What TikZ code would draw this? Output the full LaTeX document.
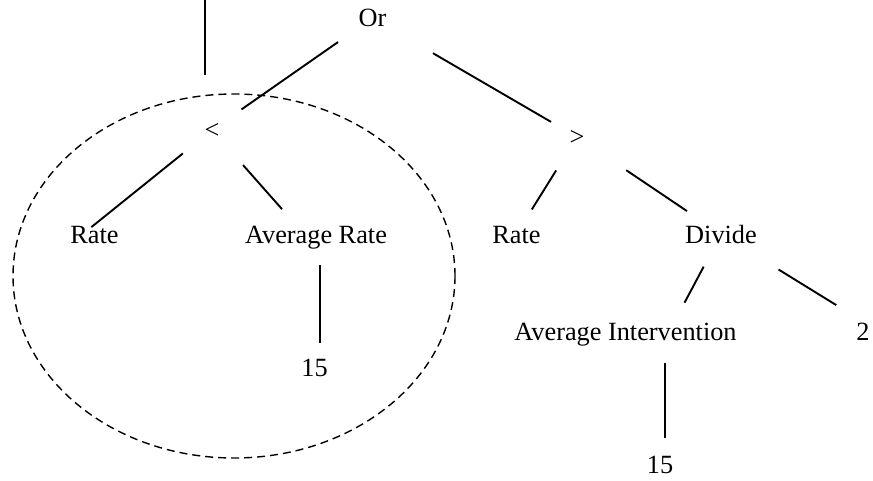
\documentclass[tikz,border=0pt]{standalone}
\usepackage{fontspec}
\setmainfont{Liberation Serif}
\usetikzlibrary{calc}

\begin{document}
\begin{tikzpicture}[
    x=0.5pt, y=-0.5pt,
    lbl/.style={anchor=base, inner sep=0pt, text height=9pt, text depth=0pt,
                font=\fontsize{13.15}{15}\selectfont},
    edge/.style={line width=0.95pt},
    grp/.style={line width=0.7pt, dash pattern=on 4pt off 2.5pt}
  ]
  \useasboundingbox (0,0) rectangle (873,481);
  % tree labels
  \node[lbl] (or)       at (372.5,27) {Or};
  \node[lbl] (lt)       at (212,139)  {<};
  \node[lbl] (gt)       at (577,146)  {>};
  \node[lbl] (ratel)    at (94.5,243) {Rate};
  \node[lbl] (avgrate)  at (316,243)  {Average Rate};
  \node[lbl] (fifteenl) at (314.5,376) {15};
  \node[lbl] (rater)    at (516.5,243) {Rate};
  \node[lbl] (divide)   at (721,243)  {Divide};
  \node[lbl] (avgint)   at (625.5,340) {Average Intervention};
  \node[lbl] (two)      at (863,340)  {2};
  \node[lbl] (fifteenr) at (660,473)  {15};
  \coordinate (cut) at (205,0);
  % branches
  \draw[edge, shorten >=23pt] (cut) -- (cut |- lt.north);
  \draw[edge, shorten <=21pt, shorten >=18pt] (or.center) -- (lt.center);
  \draw[edge, shorten <=35pt, shorten >=15pt] (or.center) -- (gt.center);
  \draw[edge, shorten <=18.7pt, shorten >=-2pt] (lt.center) -- (ratel.north);
  \draw[edge, shorten <=23.4pt, shorten >=16.6pt] (lt.center) -- ([xshift=-6pt]avgrate.center);
  \draw[edge, shorten <=15.5pt, shorten >=12pt]
    ($(avgrate.center)+(4,0)$) -- ($(avgrate.center |- fifteenl.center)+(4,0)$);
  \draw[edge, shorten <=19.7pt, shorten >=14.5pt] (gt.center) -- (rater.center);
  \draw[edge, shorten <=29.7pt, shorten >=20.5pt] (gt.center) -- (divide.center);
  \draw[edge, shorten <=18.5pt, shorten >=16pt] (divide.center) -- ([xshift=22pt]avgint.center);
  \draw[edge, shorten <=33.8pt, shorten >=15.7pt] (divide.center) -- (two.north);
  \draw[edge, shorten <=16pt, shorten >=13pt]
    ($(fifteenr.center |- avgint.center)+(5,0)$) -- ($(fifteenr.center)+(5,0)$);
  % subtree marker
  \draw[grp] (234,276) ellipse [x radius=110.5pt, y radius=91pt];
\end{tikzpicture}
\end{document}
